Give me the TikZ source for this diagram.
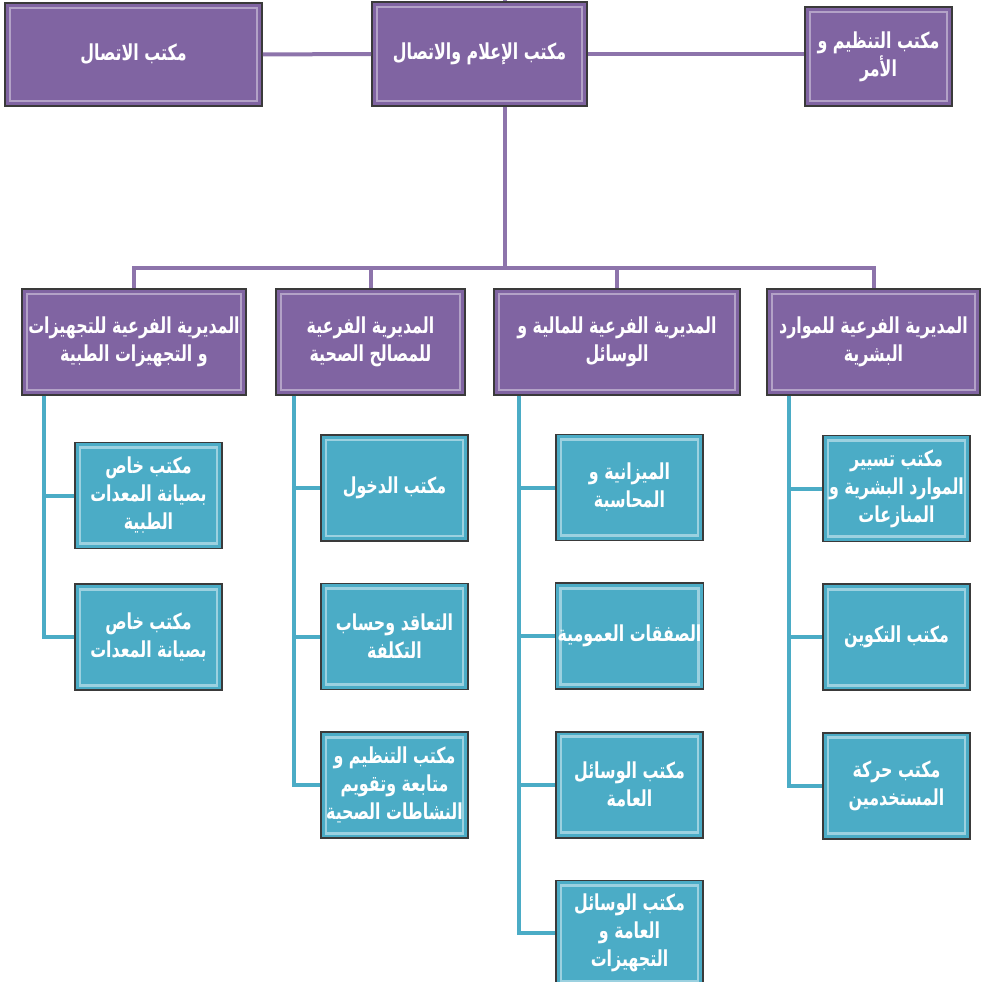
\documentclass[tikz,border=0pt]{standalone}
\usepackage{fontspec}
\newfontfamily\arabicfont[Script=Arabic, FakeStretch=0.72]{DejaVu Sans}
\TeXXeTstate=1
\usetikzlibrary{positioning}

\definecolor{orgpurple}{HTML}{8064A2}
\definecolor{orgteal}{HTML}{4BACC6}
\definecolor{orgedge}{HTML}{3A3A3A}
\newcommand{\ar}[1]{\beginR #1\endR}

\begin{document}
\begin{tikzpicture}[x=0.5pt, y=-0.5pt, node distance=20.5pt,
    box/.style={draw=orgedge, line width=0.8pt, rectangle, text=white, align=center, inner sep=1pt,
        font=\arabicfont\bfseries\fontsize{11}{14}\selectfont},
    bevel/.style={path picture={\draw[#1, line width=1.4pt]
        ([shift={(2.5pt,-2.5pt)}]path picture bounding box.north west) rectangle
        ([shift={(-2.5pt,2.5pt)}]path picture bounding box.south east);}},
    purplebox/.style={box, fill=orgpurple, bevel=white!40!orgpurple},
    tealbox/.style={box, fill=orgteal, bevel=white!45!orgteal, minimum width=73.5pt, minimum height=53pt},
    purpleline/.style={draw=orgpurple!90, line width=2pt},
    tealline/.style={draw=orgteal, line width=2pt}]

    \useasboundingbox (0,0) rectangle (982,982);
    \clip (0,0) rectangle (982,982);

    % Draw the top row
    \node (tmain)  [purplebox, minimum width=107.5pt, minimum height=52pt] at (479.5,54) {\ar{مكتب الإعلام والاتصال}};
    \node (tleft)  [purplebox, minimum width=128.5pt, minimum height=51.5pt] at (133.5,54.5) {\ar{مكتب الاتصال}};
    \node (tright) [purplebox, minimum width=73.5pt, minimum height=49.5pt] at (878.5,56.5) {\ar{مكتب التنظيم و}\\\ar{الأمر}};

    % Draw the sub-directorates
    \node (s1) [purplebox, minimum width=112pt, minimum height=53pt] at (134,342) {\ar{المديرية الفرعية للتجهيزات}\\\ar{و التجهيزات الطبية}};
    \node (s2) [purplebox, minimum width=94.5pt, minimum height=53pt] at (370.5,342) {\ar{المديرية الفرعية}\\\ar{للمصالح الصحية}};
    \node (s3) [purplebox, minimum width=123pt, minimum height=53pt] at (617,342) {\ar{المديرية الفرعية للمالية و}\\\ar{الوسائل}};
    \node (s4) [purplebox, minimum width=106.5pt, minimum height=53pt] at (873.5,342) {\ar{المديرية الفرعية للموارد}\\\ar{البشرية}};

    % Draw the offices
    \node (c1a) [tealbox] at (148.5,495.5) {\ar{مكتب خاص}\\\ar{بصيانة المعدات}\\\ar{الطبية}};
    \node (c1b) [tealbox, below=17pt of c1a] {\ar{مكتب خاص}\\\ar{بصيانة المعدات}};

    \node (c2a) [tealbox] at (394.5,488) {\ar{مكتب الدخول}};
    \node (c2b) [tealbox, below=of c2a] {\ar{التعاقد وحساب}\\\ar{التكلفة}};
    \node (c2c) [tealbox, below=of c2b] {\ar{مكتب التنظيم و}\\\ar{متابعة وتقويم}\\\ar{النشاطات الصحية}};

    \node (c3a) [tealbox] at (629.5,487.5) {\ar{الميزانية و}\\\ar{المحاسبة}};
    \node (c3b) [tealbox, below=of c3a] {\ar{الصفقات العمومية}};
    \node (c3c) [tealbox, below=of c3b] {\ar{مكتب الوسائل}\\\ar{العامة}};
    \node (c3d) [tealbox, below=of c3c] {\ar{مكتب الوسائل}\\\ar{العامة و}\\\ar{التجهيزات}};

    \node (c4a) [tealbox] at (896.5,488.5) {\ar{مكتب تسيير}\\\ar{الموارد البشرية و}\\\ar{المنازعات}};
    \node (c4b) [tealbox, below=of c4a] {\ar{مكتب التكوين}};
    \node (c4c) [tealbox, below=of c4b] {\ar{مكتب حركة}\\\ar{المستخدمين}};

    % Draw the connecting lines
    \coordinate (bus) at (505,268);
    \coordinate (up)  at (505,-10);
    \draw [purpleline] (tleft) -- (tmain);
    \draw [purpleline] (tmain.east) -- (tmain.east -| tright.west);
    \draw [purpleline] (up) -- (up |- tmain.north);
    \draw [purpleline] (bus |- tmain.south) -- (bus);
    \foreach \s in {s1,s2,s3,s4}
        \draw [purpleline] (bus) -| (\s.north);

    \foreach \c in {c1a,c1b}
        \draw [tealline] ([xshift=11.5pt]s1.south west) |- (\c.west);
    \foreach \c in {c2a,c2b,c2c}
        \draw [tealline] ([xshift=9.5pt]s2.south west) |- (\c.west);
    \foreach \c in {c3a,c3b,c3c,c3d}
        \draw [tealline] ([xshift=13pt]s3.south west) |- (\c.west);
    \foreach \c in {c4a,c4b,c4c}
        \draw [tealline] ([xshift=11.5pt]s4.south west) |- (\c.west);
\end{tikzpicture}
\end{document}
